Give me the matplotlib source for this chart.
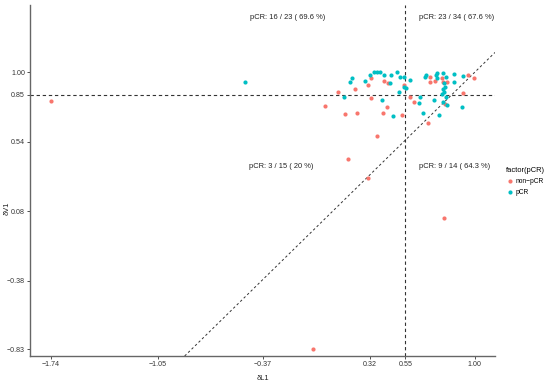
import matplotlib
matplotlib.use('Agg')
import matplotlib.pyplot as plt

# delta L1 / delta V1 for each patient, split by response
pcr_l1 = [-0.486, 0.204, 0.193, 0.290, 0.322, 0.345, 0.367, 0.387, 0.414, 0.456,
          0.497, 0.516, 0.542, 0.451, 0.510, 0.544,
          0.154, 0.398, 0.473,
          0.555, 0.581, 0.684, 0.678, 0.749, 0.757, 0.796, 0.753, 0.813, 0.865,
          0.865, 0.921, 0.800, 0.807, 0.796, 0.800, 0.784,
          0.645, 0.641, 0.733, 0.792, 0.817, 0.663, 0.768, 0.915, 0.813]
pcr_v1 = [0.932, 0.958, 0.931, 0.943, 0.980, 0.997, 0.997, 0.998, 0.980, 0.980,
          0.997, 0.969, 0.965, 0.929, 0.871, 0.903,
          0.837, 0.815, 0.711,
          0.892, 0.947, 0.980, 0.964, 0.980, 0.993, 0.995, 0.960, 0.965, 0.987,
          0.932, 0.974, 0.925, 0.903, 0.886, 0.865, 0.855,
          0.837, 0.793, 0.817, 0.802, 0.785, 0.727, 0.716, 0.771, 0.837]

non_l1 = [0.328, 0.309, 0.414, 0.440, 0.225, 0.117, 0.544,
          -1.740, 0.328, 0.432, 0.031, 0.157, 0.240, 0.403, 0.529, 0.365,
          0.182, 0.311, -0.044,
          0.710, 0.710, 0.742, 0.785, 0.794, 0.818, 0.954, 0.996, 0.925,
          0.581, 0.606, 0.697, 0.800, 0.807]
non_v1 = [0.960, 0.914, 0.941, 0.925, 0.888, 0.870, 0.914,
          0.810, 0.825, 0.772, 0.773, 0.723, 0.729, 0.727, 0.719, 0.577,
          0.422, 0.302, -0.832,
          0.969, 0.934, 0.941, 0.958, 0.932, 0.932, 0.978, 0.958, 0.859,
          0.833, 0.804, 0.661, 0.034, 0.789]

x_ticks = [-1.74, -1.05, -0.37, 0.32, 0.55, 1.00]
y_ticks = [-0.83, -0.38, 0.08, 0.54, 0.85, 1.00]
x_cut = 0.55
y_cut = 0.85

quad_labels = ["pCR: 16 / 23 ( 69.6 %)", "pCR: 23 / 34 ( 67.6 %)",
               "pCR: 3 / 15 ( 20 %)", "pCR: 9 / 14 ( 64.3 %)"]
quad_x = [-0.21, 0.88, -0.255, 0.871]
quad_y = [1.357, 1.357, 0.373, 0.373]

col_non = '#F8766D'
col_pcr = '#00BFC4'
font = 'Liberation Sans'


def fmt(v):
    # ggplot-ish labels with a real minus sign
    return ('%.2f' % v).replace('-', '\u2212')


fig = plt.figure(figsize=(5.5, 3.86), dpi=100)
ax = fig.add_axes([0.0545, 0.0777, 0.8455, 0.9093])

ax.scatter(non_l1, non_v1, s=9, color=col_non, linewidths=0, label='non\u2212pCR', zorder=3)
ax.scatter(pcr_l1, pcr_v1, s=9, color=col_pcr, linewidths=0, label='pCR', zorder=3)

ax.axvline(x_cut, color='#333333', lw=0.8, ls=(0, (3, 2.5)), zorder=2)
ax.axhline(y_cut, color='#333333', lw=0.8, ls=(0, (3, 2.5)), zorder=2)
ax.axline((0, 0), slope=1, color='#333333', lw=0.7, ls=(0, (2.5, 2.5)), zorder=2)

for lab, tx, ty in zip(quad_labels, quad_x, quad_y):
    ax.text(tx, ty, lab, ha='center', va='center', fontsize=5.4, color='#222222', family=font)

ax.set_xlim(-1.8757, 1.1293)
ax.set_ylim(-0.8762, 1.4425)
ax.set_xticks(x_ticks)
ax.set_xticklabels([fmt(v) for v in x_ticks], family=font)
ax.set_yticks(y_ticks)
ax.set_yticklabels([fmt(v) for v in y_ticks], family=font)
ax.tick_params(labelsize=5.1, length=2, width=0.6, color='#333333', pad=1.5, labelcolor='#333333')

for side in ['top', 'right']:
    ax.spines[side].set_visible(False)
for side in ['left', 'bottom']:
    ax.spines[side].set_color('#666666')
    ax.spines[side].set_linewidth(1.0)

ax.set_xlabel('\u03b4L1', fontsize=5.4, family=font, color='#222222')
ax.set_ylabel('\u03b4V1', fontsize=5.4, family=font, color='#222222')
ax.xaxis.set_label_coords(0.5, -0.055)
ax.yaxis.set_label_coords(-0.042, 0.42)

leg = fig.legend(loc='upper left', bbox_to_anchor=(0.915, 0.575), frameon=False,
                 title='factor(pCR)', prop={'family': font, 'size': 4.8},
                 handletextpad=0.2, labelspacing=0.6, markerscale=1.0,
                 handlelength=1.2, borderaxespad=0)
leg.get_title().set_fontsize(5.4)
leg.get_title().set_family(font)
leg._legend_box.align = 'left'

fig.savefig('out.png', dpi=100)
